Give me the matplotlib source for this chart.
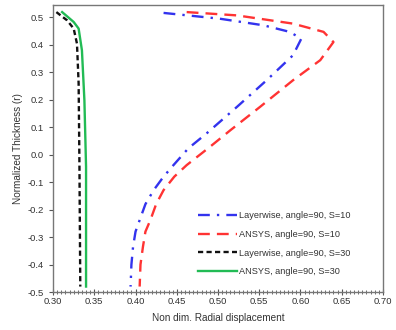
import matplotlib
matplotlib.use('Agg')
import matplotlib.pyplot as plt
from matplotlib.ticker import MultipleLocator

plt.rcParams['font.family'] = ['Liberation Sans', 'DejaVu Sans']

# Layerwise, S=10
lw10_x = [0.434, 0.502, 0.555, 0.587, 0.601, 0.591, 0.559, 0.523, 0.486, 0.464,
          0.446, 0.434, 0.422, 0.412, 0.405, 0.400, 0.397, 0.395, 0.394]
lw10_y = [0.516, 0.495, 0.471, 0.447, 0.422, 0.362, 0.271, 0.174, 0.077, 0.023,
          -0.038, -0.080, -0.129, -0.180, -0.238, -0.280, -0.335, -0.400, -0.48]

# ANSYS, S=10
an10_x = [0.462, 0.523, 0.591, 0.628, 0.640, 0.624, 0.591, 0.551, 0.515, 0.490,
          0.462, 0.447, 0.434, 0.425, 0.418, 0.412, 0.409, 0.406, 0.405]
an10_y = [0.519, 0.507, 0.477, 0.447, 0.410, 0.344, 0.271, 0.174, 0.089, 0.028,
          -0.038, -0.080, -0.129, -0.180, -0.238, -0.280, -0.335, -0.400, -0.48]

# Layerwise, S=30
lw30_x = [0.304, 0.317, 0.325, 0.329, 0.331, 0.332, 0.333]
lw30_y = [0.519, 0.489, 0.459, 0.404, 0.259, -0.044, -0.48]

# ANSYS, S=30
an30_x = [0.311, 0.325, 0.331, 0.335, 0.338, 0.340, 0.340]
an30_y = [0.519, 0.483, 0.459, 0.380, 0.198, -0.044, -0.48]

fig = plt.figure(figsize=(3.96, 3.30), dpi=100)
ax = fig.add_axes([0.134, 0.115, 0.833, 0.87])

ax.plot(lw10_x, lw10_y, color='#3333ee', lw=1.7, dashes=(5, 3, 1, 3),
        label='Layerwise, angle=90, S=10')
ax.plot(an10_x, an10_y, color='#ff3333', lw=1.7, dashes=(5, 3),
        label='ANSYS, angle=90, S=10')
ax.plot(lw30_x, lw30_y, color='#111111', lw=1.7, dashes=(2.2, 1.4),
        label='Layerwise, angle=90, S=30')
ax.plot(an30_x, an30_y, color='#22bb55', lw=1.7,
        label='ANSYS, angle=90, S=30')

ax.set_xlim(0.30, 0.70)
ax.set_ylim(-0.5, 0.545)
ax.xaxis.set_major_locator(MultipleLocator(0.05))
ax.xaxis.set_minor_locator(MultipleLocator(0.005))
ax.yaxis.set_major_locator(MultipleLocator(0.1))
ax.xaxis.set_major_formatter(plt.FuncFormatter(lambda v, p: f'{v:.2f}'))
ax.yaxis.set_major_formatter(plt.FuncFormatter(lambda v, p: f'{v:.1f}'))

ax.tick_params(axis='x', which='major', direction='inout', length=4, pad=1.5,
               width=0.8, labelsize=6.8, colors='#555555', labelcolor='#333333')
ax.tick_params(axis='x', which='minor', direction='inout', length=2.5,
               width=0.6, colors='#555555')
ax.tick_params(axis='y', which='major', direction='out', length=3,
               width=0.8, labelsize=6.8, colors='#555555', labelcolor='#333333')

for s in ax.spines.values():
    s.set_color('#777777')
    s.set_linewidth(1.0)

ax.set_xlabel('Non dim. Radial displacement', fontsize=7.2, color='#333333',
              labelpad=5)
ax.set_ylabel('Normalized Thickness (r)', fontsize=7.2, color='#333333',
              labelpad=3)

leg = ax.legend(loc='upper left', bbox_to_anchor=(0.415, 0.31), frameon=False,
                fontsize=6.6, handlelength=4.2, handletextpad=0.25,
                labelspacing=1.05, labelcolor='#333333')

fig.savefig('out.png', dpi=100)
